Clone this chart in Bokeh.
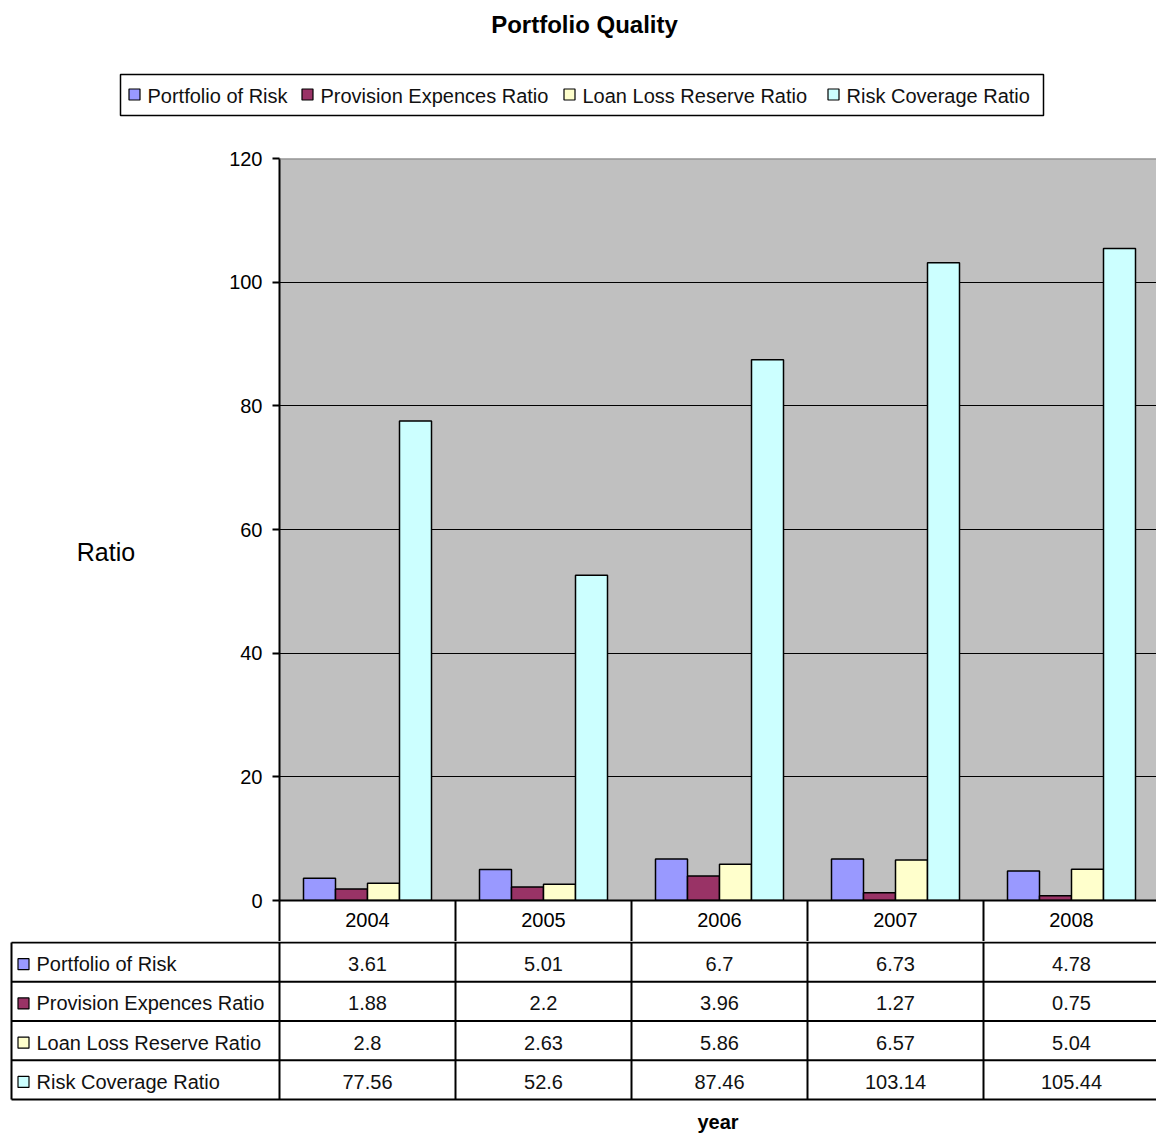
from bokeh.plotting import figure
from bokeh.layouts import column
from bokeh.models import (Range1d, LinearAxis, FixedTicker, Span,
                          ColumnDataSource)
from bokeh.core.properties import value
from bokeh.embed import file_html
from bokeh.resources import INLINE

# ---- data -------------------------------------------------------------
years = ["2004", "2005", "2006", "2007", "2008"]
series_names = ["Portfolio of Risk", "Provision Expences Ratio",
                "Loan Loss Reserve Ratio", "Risk Coverage Ratio"]
portfolio_of_risk = [3.61, 5.01, 6.7, 6.73, 4.78]
provision_expences_ratio = [1.88, 2.2, 3.96, 1.27, 0.75]
loan_loss_reserve_ratio = [2.8, 2.63, 5.86, 6.57, 5.04]
risk_coverage_ratio = [77.56, 52.6, 87.46, 103.14, 105.44]
y_ticks = [0, 20, 40, 60, 80, 100, 120]

series_values = [portfolio_of_risk, provision_expences_ratio,
                 loan_loss_reserve_ratio, risk_coverage_ratio]
colors = ["#9999FF", "#993366", "#FFFFCC", "#CCFFFF"]

FONT = "Liberation Sans"
W = 1156
CAT_PX = 176            # pixel width of one year slot
LEFT = 279              # left edge of the plot area
HEADER_H = 146
TOP_PAD = 12
PLOT_H = 742
AXIS_H = 41
TABLE_H = 1133 - HEADER_H - TOP_PAD - PLOT_H - AXIS_H
x_end = (W - LEFT) / CAT_PX

# ---- header: title and legend -----------------------------------------
hdr = figure(width=W, height=HEADER_H, x_range=Range1d(0, W),
             y_range=Range1d(HEADER_H, 0), toolbar_location=None,
             output_backend="svg", min_border=0, frame_align=False)
hdr.axis.visible = False
hdr.grid.visible = False
hdr.outline_line_color = None
hdr.text(x=[584], y=[24], text=["Portfolio Quality"],
         text_font=value(FONT), text_font_style="bold",
         text_font_size="24px", text_align="center",
         text_baseline="middle", text_color="black")
hdr.quad(left=[120], right=[1043], top=[74], bottom=[115],
         fill_color="white", line_color="black", line_width=1.5)
leg_x = [128, 301, 563, 827]
hdr.rect(x=[lx + 6 for lx in leg_x], y=[94] * 4, width=11, height=11,
         fill_color=colors, line_color="black", line_width=1.2)
hdr.text(x=[lx + 19 for lx in leg_x], y=[95] * 4, text=series_names,
         text_font=value(FONT), text_font_size="20px",
         text_baseline="middle", text_color="#111111")

# ---- chart ------------------------------------------------------------
p = figure(width=W, height=TOP_PAD + PLOT_H + AXIS_H,
           x_range=Range1d(0, x_end), y_range=Range1d(0, 120),
           toolbar_location=None, output_backend="svg",
           x_axis_location=None, y_axis_location=None,
           min_border_left=LEFT, min_border_right=0,
           min_border_top=TOP_PAD, min_border_bottom=AXIS_H,
           frame_align=False)
p.background_fill_color = "#C0C0C0"
p.border_fill_color = "white"
p.outline_line_color = None
p.xgrid.visible = False
p.ygrid.ticker = FixedTicker(ticks=y_ticks[1:-1])
p.ygrid.grid_line_color = "black"
p.ygrid.grid_line_width = 1
p.add_layout(Span(location=y_ticks[-1], dimension="width",
                  line_color="#808080", line_width=2))

bar_w = 32 / CAT_PX
for k, (name, vals, col) in enumerate(zip(series_names, series_values, colors)):
    xs = [i + 0.5 + (k - 1.5) * bar_w for i in range(len(years))]
    src = ColumnDataSource(dict(x=xs, top=vals))
    p.vbar(x="x", top="top", width=bar_w, bottom=0, source=src,
           fill_color=col, line_color="black", line_width=1.5)

yaxis = LinearAxis(ticker=FixedTicker(ticks=y_ticks, minor_ticks=[]))
yaxis.axis_line_color = "black"
yaxis.axis_line_width = 2
yaxis.major_tick_out = 7
yaxis.major_tick_in = 0
yaxis.major_tick_line_width = 2
yaxis.major_label_standoff = 10
yaxis.major_label_text_font = FONT
yaxis.major_label_text_font_size = "20px"
yaxis.major_label_text_color = "black"
yaxis.axis_label = "\nRatio"
yaxis.axis_label_orientation = "horizontal"
yaxis.axis_label_standoff = 91
yaxis.axis_label_text_font = FONT
yaxis.axis_label_text_font_size = "25px"
yaxis.axis_label_text_font_style = "normal"
yaxis.axis_label_text_color = "black"
yaxis.axis_label_text_line_height = 1.6
p.add_layout(yaxis, "left")

# year header row: labels at slot centres, slot dividers as minor ticks
xaxis = LinearAxis(ticker=FixedTicker(ticks=[i + 0.5 for i in range(len(years))],
                                      minor_ticks=list(range(len(years) + 1))))
xaxis.major_label_overrides = {i + 0.5: y for i, y in enumerate(years)}
xaxis.axis_line_color = "black"
xaxis.axis_line_width = 2
xaxis.major_tick_line_color = None
xaxis.major_tick_out = 0
xaxis.major_tick_in = 0
xaxis.minor_tick_out = AXIS_H
xaxis.minor_tick_in = 0
xaxis.minor_tick_line_color = "black"
xaxis.minor_tick_line_width = 2
xaxis.major_label_standoff = 12 - AXIS_H
xaxis.major_label_text_font = FONT
xaxis.major_label_text_font_size = "20px"
xaxis.major_label_text_color = "black"
p.add_layout(xaxis, "below")

# ---- data table -------------------------------------------------------
t = figure(width=W, height=TABLE_H, x_range=Range1d(-LEFT / CAT_PX, x_end),
           y_range=Range1d(TABLE_H - 1, -1), toolbar_location=None,
           output_backend="svg", min_border=0, frame_align=False)
t.axis.visible = False
t.grid.visible = False
t.outline_line_color = None

row_h = 39.25
n_rows = len(series_names)
tbl_left = (11 - LEFT) / CAT_PX
tbl_bottom = row_h * n_rows
t.segment(x0=[tbl_left] * (n_rows + 1), x1=[x_end + 1] * (n_rows + 1),
          y0=[r * row_h for r in range(n_rows + 1)],
          y1=[r * row_h for r in range(n_rows + 1)],
          line_color="black", line_width=2)
vx = [tbl_left] + list(range(len(years)))
t.segment(x0=vx, x1=vx, y0=[0] * len(vx), y1=[tbl_bottom] * len(vx),
          line_color="black", line_width=2)

row_y = [(r + 0.5) * row_h + 2 for r in range(n_rows)]
t.rect(x=[(23 - LEFT) / CAT_PX] * n_rows, y=row_y, width=11 / CAT_PX,
       height=11, fill_color=colors, line_color="black", line_width=1.2)
t.text(x=[(36 - LEFT) / CAT_PX] * n_rows, y=row_y, text=series_names,
       text_font=value(FONT), text_font_size="20px",
       text_baseline="middle", text_color="#111111")
for r, vals in enumerate(series_values):
    t.text(x=[i + 0.5 for i in range(len(years))], y=[row_y[r]] * len(years),
           text=[f"{v:g}" for v in vals], text_font=value(FONT),
           text_font_size="20px", text_align="center",
           text_baseline="middle", text_color="#111111")
t.text(x=[x_end / 2], y=[1120 - (1133 - TABLE_H)], text=["year"],
       text_font=value(FONT), text_font_style="bold", text_font_size="20px",
       text_align="center", text_baseline="middle", text_color="black")

layout = column(hdr, p, t, spacing=0)
open("out.html", "w").write(file_html(layout, INLINE))
